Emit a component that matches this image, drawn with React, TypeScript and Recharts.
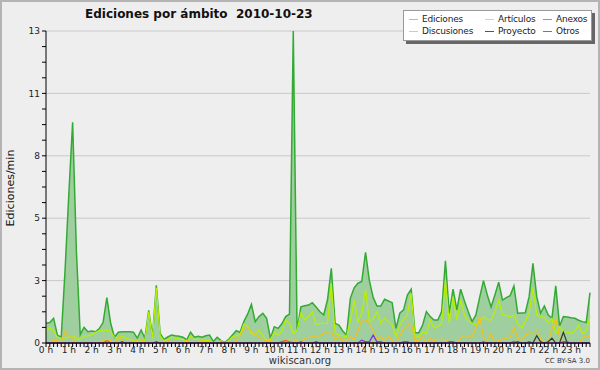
import { ComposedChart, Area, Line, XAxis, YAxis, CartesianGrid } from 'recharts';

// 10-minute slots, 0 h .. 23 h 50
const hourLabels = [
  '0 h', '1 h', '2 h', '3 h', '4 h', '5 h', '6 h', '7 h', '8 h', '9 h', '10 h', '11 h',
  '12 h', '13 h', '14 h', '15 h', '16 h', '17 h', '18 h', '19 h', '20 h', '21 h', '22 h', '23 h',
];

const ediciones = [
  0.82, 0.85, 1.03, 0.33, 0.24, 3.0, 6.2, 9.2, 3.8, 0.35, 0.65, 0.47,
  0.5, 0.47, 0.6, 0.85, 1.89, 0.82, 0.24, 0.45, 0.47, 0.47, 0.47, 0.45,
  0.2, 0.54, 0.2, 1.36, 0.28, 2.4, 0.4, 0.15, 0.25, 0.33, 0.3, 0.28,
  0.24, 0.13, 0.45, 0.24, 0.28, 0.24, 0.3, 0.33, 0.06, 0.24, 0.1, 0.02,
  0.15, 0.33, 0.51, 0.45, 0.89, 1.2, 1.61, 0.89, 1.1, 1.24, 1.03, 0.19,
  0.68, 0.61, 0.8, 1.1, 1.2, 13, 0.54, 1.51, 1.55, 1.58, 1.68, 1.5,
  1.3, 1.17, 1.8, 3.11, 0.82, 0.75, 0.5, 0.33, 1.86, 2.3, 2.49, 2.56,
  3.78, 2.6, 1.9, 1.54, 1.54, 1.82, 1.75, 1.68, 0.61, 1.24, 1.38, 2.0,
  2.24, 0.43, 0.43, 0.75, 1.31, 1.1, 0.96, 0.96, 1.31, 3.42, 1.24, 2.24,
  1.38, 2.24, 1.75, 1.3, 0.89, 1.17, 1.9, 2.6, 2.0, 1.5, 2.0, 2.53,
  1.79, 1.89, 1.97, 2.38, 1.24, 1.25, 1.26, 1.93, 3.32, 1.93, 1.24, 1.54,
  1.17, 1.03, 2.38, 0.71, 1.1, 1.08, 1.05, 1.03, 0.95, 0.89, 0.85, 2.1,
];

const articulos = [
  0.45, 0.65, 0.5, 0.24, 0.2, 0.2, 0.25, 0.3, 0.2, 0.15, 0.29, 0.3,
  0.35, 0.45, 0.52, 0.5, 0.54, 0.47, 0.24, 0.2, 0.28, 0.2, 0.15, 0.1,
  0.05, 0.1, 0.1, 1.3, 0.2, 2.3, 0.3, 0.1, 0.15, 0.25, 0.2, 0.15,
  0.15, 0, 0.3, 0.15, 0.15, 0.1, 0.12, 0.1, 0.02, 0.05, 0.02, 0,
  0.1, 0.26, 0.3, 0.35, 0.79, 0.7, 0.4, 0.33, 0.54, 0.3, 0.12, 0.15,
  0.45, 0.33, 0.5, 0.96, 0.8, 0.4, 0.54, 1.24, 0.96, 1.1, 1.3, 0.75,
  0.82, 0.82, 0.82, 2.49, 0.4, 0.33, 0.3, 0.26, 0.9, 1.79, 0.89, 1.24,
  2.24, 0.89, 1.0, 1.3, 0.82, 1.03, 0.9, 0.75, 0.26, 0.75, 1.0, 1.17,
  2.07, 0.26, 0.26, 0.47, 0.4, 0.96, 0.61, 0.7, 0.82, 2.63, 0.82, 1.93,
  0.96, 1.79, 1.17, 0.9, 0.82, 0.75, 0.9, 1.1, 0.96, 0.96, 1.3, 1.79,
  1.17, 1.15, 1.1, 1.17, 0.8, 0.61, 0.9, 1.24, 2.28, 1.17, 1.1, 1.07,
  0.85, 1.03, 0.4, 0.68, 0.47, 0.45, 0.4, 0.5, 0.75, 0.4, 0.5, 1.1,
];

const discusiones = [
  0.05, 0.05, 0.1, 0.1, 0.05, 0.47, 0.3, 0.2, 0.05, 0, 0, 0,
  0, 0.05, 0.05, 0.1, 0.15, 0.1, 0, 0.25, 0.1, 0, 0, 0,
  0.15, 0.15, 0.05, 0, 0, 0.05, 0, 0, 0.1, 0.05, 0, 0,
  0, 0.12, 0, 0, 0, 0.15, 0, 0, 0, 0, 0.1, 0,
  0, 0.05, 0.1, 0.3, 0.62, 0.65, 0.5, 0.35, 0.24, 0.15, 0.1, 0.1,
  0.05, 0.05, 0.05, 0.1, 0.15, 0.15, 0.1, 0, 0.2, 0.25, 0.25, 0.3,
  0.3, 0.4, 0.47, 0.47, 0.15, 0.26, 0.1, 0.05, 0.26, 0.15, 0.5, 0.96,
  0.96, 0.8, 0.54, 0.13, 0.25, 0.13, 0.3, 0.1, 0, 0.3, 0.6, 0.75,
  0.83, 0.1, 0.1, 0.26, 0, 0.2, 0.1, 0.15, 0.15, 0.15, 0.05, 0,
  0, 0.2, 0.3, 0.3, 0.28, 0.62, 1.1, 0.24, 0.1, 0.4, 0, 0.1,
  0.15, 0.2, 0.24, 0.65, 0.2, 0.12, 0.33, 0.4, 0.47, 0.5, 0.2, 0.05,
  0.05, 0.6, 1.03, 0.24, 0, 0.05, 0, 0, 0, 0.2, 0.3, 0.25,
];

const anexos = [
  0, 0, 0, 0, 0, 0, 0, 0, 0, 0, 0, 0,
  0, 0, 0, 0, 0.1, 0, 0, 0, 0, 0, 0, 0,
  0, 0, 0, 0, 0, 0, 0, 0, 0, 0, 0, 0,
  0, 0, 0, 0, 0, 0, 0, 0, 0, 0, 0, 0,
  0, 0, 0, 0, 0, 0, 0, 0, 0, 0, 0, 0,
  0, 0, 0.06, 0.1, 0.05, 0, 0, 0, 0, 0, 0, 0,
  0, 0, 0, 0, 0, 0, 0, 0, 0, 0, 0, 0,
  0, 0, 0, 0, 0, 0, 0, 0, 0, 0, 0, 0,
  0, 0, 0, 0, 0, 0, 0, 0, 0, 0, 0, 0,
  0, 0, 0, 0, 0, 0, 0, 0, 0, 0, 0, 0,
  0, 0, 0, 0.08, 0, 0, 0, 0, 0, 0, 0, 0,
  0, 0, 0, 0, 0, 0, 0, 0, 0, 0, 0, 0,
];

const proyecto = [
  0, 0, 0, 0, 0, 0, 0, 0, 0, 0, 0, 0,
  0, 0, 0, 0, 0, 0, 0, 0, 0.05, 0, 0, 0,
  0, 0, 0, 0, 0, 0.05, 0, 0, 0, 0, 0, 0,
  0, 0, 0, 0, 0, 0, 0, 0, 0, 0, 0, 0,
  0, 0, 0, 0, 0, 0, 0, 0, 0, 0, 0, 0,
  0, 0, 0, 0, 0, 0, 0, 0, 0, 0, 0, 0.05,
  0, 0, 0, 0, 0, 0, 0, 0, 0, 0, 0, 0,
  0, 0, 0, 0, 0, 0, 0, 0, 0, 0, 0, 0,
  0, 0, 0, 0, 0, 0, 0, 0, 0, 0, 0, 0,
  0, 0, 0, 0, 0, 0, 0, 0, 0, 0, 0, 0,
  0, 0, 0, 0, 0.05, 0, 0, 0.05, 0, 0.3, 0.05, 0,
  0.05, 0.2, 0, 0, 0.45, 0, 0, 0, 0, 0, 0, 0,
];

const otros = [
  0, 0, 0, 0, 0, 0, 0, 0, 0, 0, 0, 0,
  0, 0, 0, 0, 0, 0, 0, 0, 0, 0, 0, 0,
  0, 0, 0, 0, 0, 0, 0, 0, 0, 0, 0, 0,
  0, 0, 0, 0, 0, 0, 0, 0, 0, 0, 0, 0,
  0, 0, 0, 0, 0, 0, 0, 0, 0, 0, 0, 0,
  0, 0, 0, 0, 0, 0, 0, 0.05, 0, 0, 0, 0,
  0, 0, 0, 0, 0, 0, 0, 0, 0, 0, 0, 0.12,
  0.05, 0.05, 0.33, 0.05, 0.05, 0, 0, 0, 0, 0, 0.05, 0.05,
  0, 0, 0, 0, 0, 0, 0, 0, 0, 0, 0.05, 0.05,
  0, 0, 0, 0, 0, 0, 0, 0.05, 0, 0, 0, 0,
  0, 0, 0, 0, 0, 0, 0, 0, 0, 0, 0, 0,
  0, 0, 0, 0, 0.05, 0.05, 0, 0, 0, 0, 0, 0,
];

// minor ticks every 0.65, labelled every fourth
const yTicks = [0, 0.65, 1.3, 1.95, 2.6, 3.25, 3.9, 4.55, 5.2, 5.85, 6.5, 7.15, 7.8, 8.45, 9.1, 9.75, 10.4, 11.05, 11.7, 12.35, 13];
const yLabels = ['0', '3', '5', '8', '11', '13'];
const gridValues = [2.6, 5.2, 7.8, 10.4, 13];

const legendItems = [
  { name: 'Ediciones', color: '#8fd68f' },
  { name: 'Artículos', color: '#c8ee50' },
  { name: 'Anexos', color: '#ee7a50' },
  { name: 'Discusiones', color: '#f0d050' },
  { name: 'Proyecto', color: '#555555' },
  { name: 'Otros', color: '#9a50ee' },
];

const rows = ediciones.map((v, i) => ({
  slot: i,
  ediciones: v,
  articulos: articulos[i],
  discusiones: discusiones[i],
  anexos: anexos[i],
  proyecto: proyecto[i],
  otros: otros[i],
}));

const font = 'DejaVu Sans, sans-serif';

export default function App() {
  return (
    <div style={{ position: 'absolute', left: 0, top: 0, width: 600, height: 370, background: '#eeeeef', fontFamily: font }}>
      <ComposedChart width={600} height={370} data={rows} margin={{ top: 31, right: 10, bottom: 0, left: 6 }}>
        <CartesianGrid vertical={false} horizontalValues={gridValues} stroke="#c9c9c9" />
        <XAxis
          dataKey="slot"
          type="category"
          interval={0}
          height={27}
          tickSize={4}
          tickMargin={0}
          axisLine={{ stroke: '#000' }}
          tickLine={{ stroke: '#000' }}
          tick={{ fontSize: 9, fill: '#222', fontFamily: font }}
          tickFormatter={(v: number) => (v % 6 === 0 ? hourLabels[v / 6] : '')}
        />
        <YAxis
          type="number"
          domain={[0, 13]}
          ticks={yTicks}
          interval={0}
          width={40}
          tickSize={4}
          tickMargin={2}
          axisLine={{ stroke: '#000' }}
          tickLine={{ stroke: '#000' }}
          tick={{ fontSize: 9, fill: '#222', fontFamily: font }}
          tickFormatter={(v: number, idx: number) => (idx % 4 === 0 ? yLabels[idx / 4] : '')}
        />
        <Area type="linear" dataKey="ediciones" stroke="#33aa33" strokeWidth={1.5} fill="#9fcf9f" fillOpacity={1} isAnimationActive={false} />
        <Line type="linear" dataKey="articulos" stroke="#b8f000" strokeWidth={1.2} dot={false} isAnimationActive={false} />
        <Line type="linear" dataKey="discusiones" stroke="#f2c21a" strokeWidth={1.2} dot={false} isAnimationActive={false} />
        <Line type="linear" dataKey="anexos" stroke="#ee5522" strokeWidth={1.2} dot={false} isAnimationActive={false} />
        <Line type="linear" dataKey="proyecto" stroke="#333333" strokeWidth={1.2} dot={false} isAnimationActive={false} />
        <Line type="linear" dataKey="otros" stroke="#7a2ee8" strokeWidth={1.2} dot={false} isAnimationActive={false} />
      </ComposedChart>

      <div style={{ position: 'absolute', left: 85, top: 7, fontSize: 12, fontWeight: 'bold', color: '#111', whiteSpace: 'pre' }}>
        {'Ediciones por ámbito  2010-10-23'}
      </div>

      <div
        style={{
          position: 'absolute',
          left: 10,
          top: 188,
          transform: 'translate(-50%, -50%) rotate(-90deg)',
          fontSize: 11,
          color: '#111',
          whiteSpace: 'nowrap',
        }}
      >
        Ediciones/min
      </div>

      <div
        style={{
          position: 'absolute',
          left: 403,
          top: 10,
          width: 189,
          height: 31,
          background: '#fff',
          border: '1px solid #999',
          boxShadow: '3px 3px 0 #666',
          boxSizing: 'border-box',
        }}
      >
        {legendItems.map((it, k) => {
          const col = k % 3;
          const row = Math.floor(k / 3);
          const lefts = [5, 81, 139];
          return (
            <div key={it.name} style={{ position: 'absolute', left: lefts[col], top: 2 + row * 12, height: 12, display: 'flex', alignItems: 'center', fontSize: 9, letterSpacing: -0.2, color: '#222', whiteSpace: 'nowrap' }}>
              <span style={{ display: 'inline-block', width: 9, height: 1, background: it.color, marginRight: 4 }} />
              {it.name}
            </div>
          );
        })}
      </div>

      <div style={{ position: 'absolute', left: 0, width: 600, top: 355, textAlign: 'center', fontSize: 10, color: '#333' }}>wikiscan.org</div>
      <div style={{ position: 'absolute', right: 10, top: 357, fontSize: 7, color: '#333' }}>CC BY-SA 3.0</div>
      <div style={{ position: 'absolute', left: 0, top: 0, width: 600, height: 370, border: '2px solid #b4b4b4', boxSizing: 'border-box', pointerEvents: 'none' }} />
    </div>
  );
}
